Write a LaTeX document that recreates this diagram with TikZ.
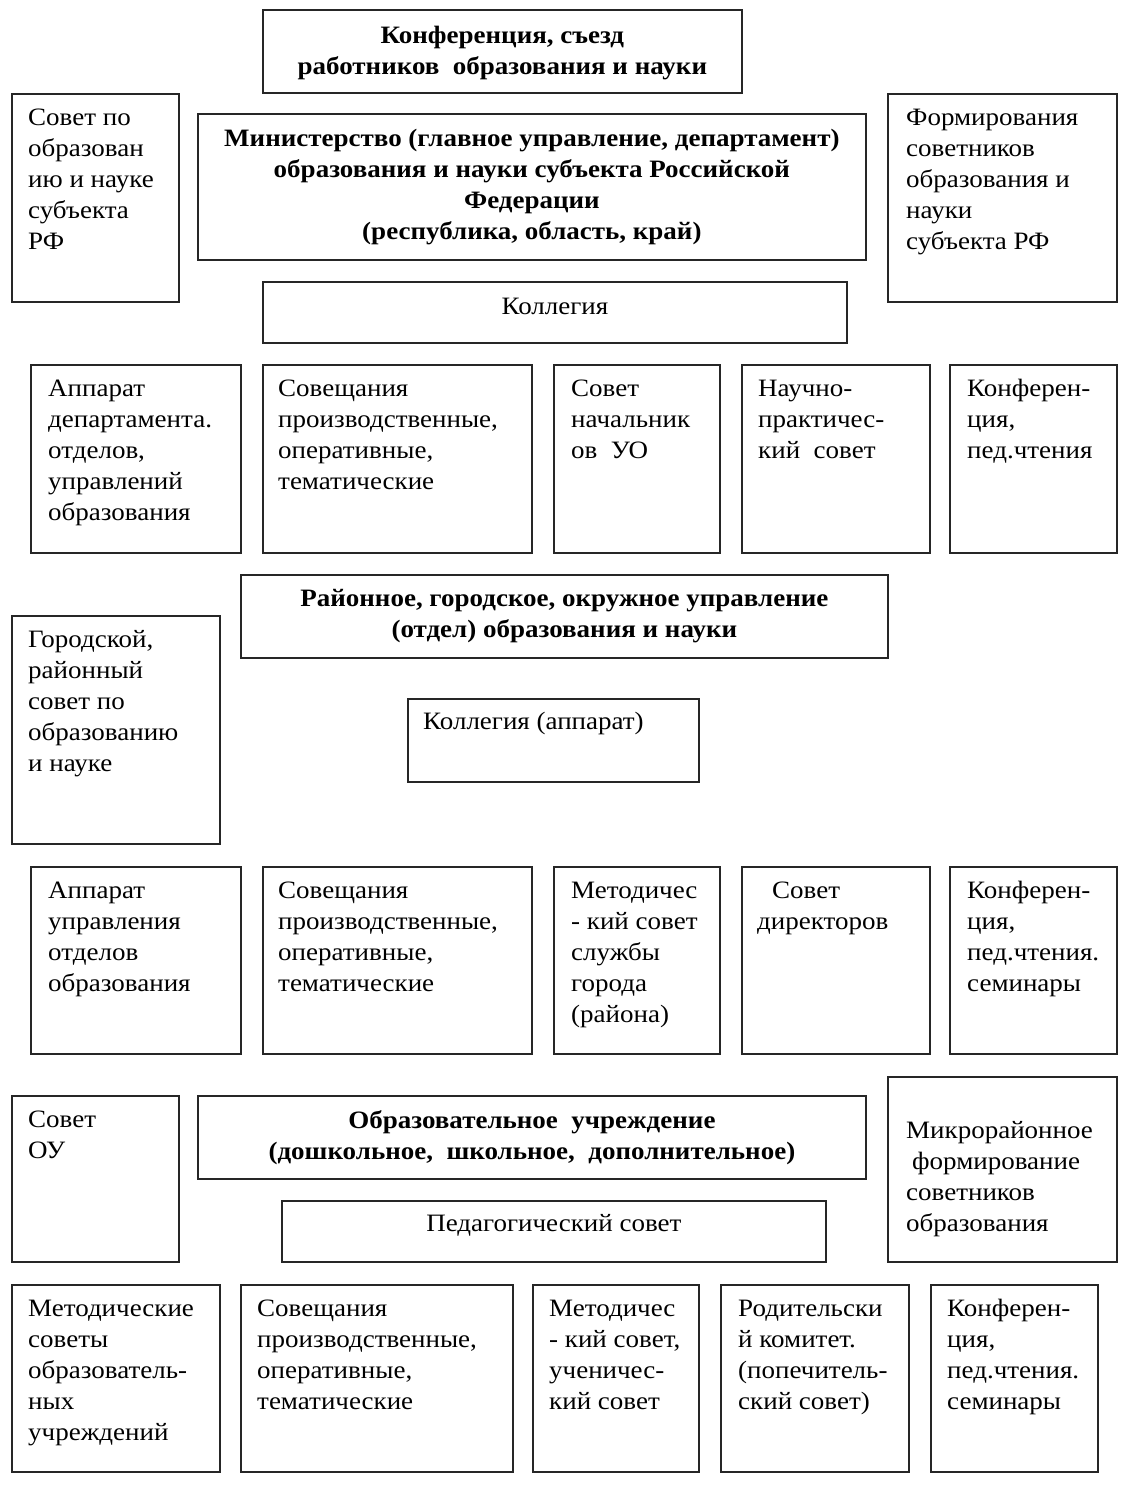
\documentclass[tikz,border=0pt]{standalone}
\usepackage{fontspec}
\setmainfont[FakeStretch=1.08]{Liberation Serif}
\tikzset{
  box/.style={draw=black!85, line width=1.8pt, rectangle, inner sep=0pt, anchor=north west},
  lt/.style={anchor=north west, align=left, inner sep=0pt, font=\fontsize{25}{31}\selectfont},
  bt/.style={align=center, inner sep=0pt, font=\fontsize{25}{31}\selectfont\bfseries},
  ct/.style={inner sep=0pt, font=\fontsize{25}{31}\selectfont},
}
\newcommand\mkbox[5]{\node[box, minimum width={(#4-#2)*1pt}, minimum height={(#5-#3)*1pt}] (#1) at (#2,#3) {};}
\newcommand\mktext[4]{\node[lt] (#1-t) at ([xshift=#2pt, yshift=-#3pt]#1.north west) {\strut #4};}
\begin{document}
\begin{tikzpicture}[x=1pt,y=-1pt]
\useasboundingbox (0,0) rectangle (1125,1485);
% top level
\mkbox{konf}{262}{9}{741}{92}
\node[bt] (konf-t) at ([yshift=-2pt]konf.center) {Конференция, съезд\\работников\ \ образования и науки};
\mkbox{sovrf}{11}{93}{178}{301}
\mktext{sovrf}{17}{10.3}{Совет по\\образован\\ию и науке\\субъекта\\РФ}
\mkbox{min}{197}{113}{865}{259}
\node[bt] (min-t) at (min.center) {Министерство (главное управление, департамент)\\образования и науки субъекта Российской\\Федерации\\(республика, область, край)};
\mkbox{form}{887}{93}{1116}{301}
\mktext{form}{19}{10.3}{Формирования\\советников\\образования и\\науки\\субъекта РФ}
\mkbox{kol}{262}{281}{846}{342}
\node[ct] (kol-t) at ([yshift=6pt]kol.center) {Коллегия};
% row 1
\mkbox{a1}{30}{364}{240}{552}
\mktext{a1}{18}{10.3}{Аппарат\\департамента.\\отделов,\\управлений\\образования}
\mkbox{a2}{262}{364}{531}{552}
\mktext{a2}{16}{10.3}{Совещания\\производственные,\\оперативные,\\тематические}
\mkbox{a3}{553}{364}{719}{552}
\mktext{a3}{18}{10.3}{Совет\\начальник\\ов\ \ УО}
\mkbox{a4}{741}{364}{929}{552}
\mktext{a4}{17}{10.3}{Научно-\\практичес-\\кий\ \ совет}
\mkbox{a5}{949}{364}{1116}{552}
\mktext{a5}{18}{10.3}{Конферен-\\ция,\\пед.чтения}
% district level
\mkbox{rai}{240}{574}{887}{657}
\node[bt] (rai-t) at (rai.center) {Районное, городское, окружное управление\\(отдел) образования и науки};
\mkbox{gor}{11}{615}{219}{843}
\mktext{gor}{17}{10.3}{Городской,\\районный\\совет по\\образованию\\и науке}
\mkbox{kol2}{407}{698}{698}{781}
\mktext{kol2}{16}{9.3}{Коллегия (аппарат)}
% row 2
\mkbox{b1}{30}{866}{240}{1053}
\mktext{b1}{18}{10.3}{Аппарат\\управления\\отделов\\образования}
\mkbox{b2}{262}{866}{531}{1053}
\mktext{b2}{16}{10.3}{Совещания\\производственные,\\оперативные,\\тематические}
\mkbox{b3}{553}{866}{719}{1053}
\mktext{b3}{18}{10.3}{Методичес\\- кий совет\\службы\\города\\(района)}
\mkbox{b4}{741}{866}{929}{1053}
\mktext{b4}{16}{10.3}{\hspace*{15pt}Совет\\директоров}
\mkbox{b5}{949}{866}{1116}{1053}
\mktext{b5}{18}{10.3}{Конферен-\\ция,\\пед.чтения.\\семинары}
% institution level
\mkbox{sou}{11}{1095}{178}{1261}
\mktext{sou}{17}{10.3}{Совет\\ОУ}
\mkbox{obr}{197}{1095}{865}{1178}
\node[bt] (obr-t) at (obr.center) {Образовательное\ \ учреждение\\(дошкольное,\ \ школьное,\ \ дополнительное)};
\mkbox{mik}{887}{1076}{1116}{1261}
\mktext{mik}{19}{40.3}{Микрорайонное\\\hspace*{6pt}формирование\\советников\\образования}
\mkbox{ped}{281}{1200}{825}{1261}
\node[ct] (ped-t) at ([yshift=6pt]ped.center) {Педагогический совет};
% row 3
\mkbox{c1}{11}{1284}{219}{1471}
\mktext{c1}{17}{10.3}{Методические\\советы\\образователь-\\ных\\учреждений}
\mkbox{c2}{240}{1284}{512}{1471}
\mktext{c2}{17}{10.3}{Совещания\\производственные,\\оперативные,\\тематические}
\mkbox{c3}{532}{1284}{698}{1471}
\mktext{c3}{17}{10.3}{Методичес\\- кий совет,\\ученичес-\\кий совет}
\mkbox{c4}{720}{1284}{908}{1471}
\mktext{c4}{18}{10.3}{Родительски\\й комитет.\\(попечитель-\\ский совет)}
\mkbox{c5}{930}{1284}{1097}{1471}
\mktext{c5}{17}{10.3}{Конферен-\\ция,\\пед.чтения.\\семинары}
\end{tikzpicture}
\end{document}
